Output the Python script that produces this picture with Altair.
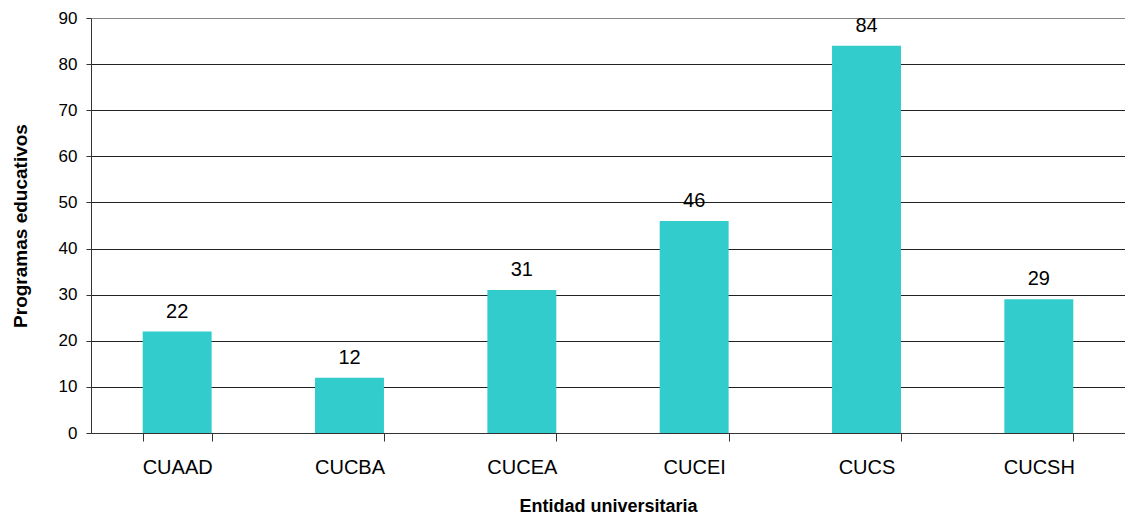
import altair as alt
import pandas as pd

categories = ["CUAAD", "CUCBA", "CUCEA", "CUCEI", "CUCS", "CUCSH"]
values = [22, 12, 31, 46, 84, 29]

df = pd.DataFrame({"entidad": categories, "programas": values})

FONT = "Liberation Sans"

base = alt.Chart(df).encode(
    x=alt.X(
        "entidad:N",
        sort=categories,
        title="Entidad universitaria",
        scale=alt.Scale(paddingInner=0.6, paddingOuter=0.3),
        axis=alt.Axis(
            labelAngle=0,
            labelFontSize=20,
            labelFont=FONT,
            labelColor="#000",
            labelPadding=16,
            tickBand="extent",
            tickSize=8,
            tickColor="#333",
            domainColor="#333",
            titleFontSize=18,
            titleFont=FONT,
            titleFontWeight="bold",
            titleColor="#000",
            titlePadding=20,
        ),
    ),
    y=alt.Y(
        "programas:Q",
        title="Programas educativos",
        scale=alt.Scale(domain=[0, 90], nice=False),
        axis=alt.Axis(
            values=[0, 10, 20, 30, 40, 50, 60, 70, 80, 90],
            labelFontSize=17,
            labelFont=FONT,
            labelColor="#000",
            labelPadding=9,
            tickSize=5,
            tickColor="#333",
            domainColor="#333",
            gridColor={"condition": {"test": "datum.value === 90", "value": "#888"}, "value": "#222"},
            gridOpacity=1,
            titleFontSize=19,
            titleFont=FONT,
            titleFontWeight="bold",
            titleColor="#000",
            titlePadding=28,
        ),
    ),
)

bars = base.mark_bar(color="#33CCCC")
labels = base.mark_text(
    baseline="alphabetic", dy=-14, fontSize=20, font=FONT, color="#000"
).encode(text="programas:Q")

chart = (
    (bars + labels)
    .properties(
        width=1034,
        height=415,
        autosize=alt.AutoSizeParams(type="none"),
        padding={"left": 83, "top": 10, "right": 0, "bottom": 83},
        background="white",
    )
    .configure_view(stroke=None)
)

chart.save("out.html", embed_options={"renderer": "svg", "actions": False})
